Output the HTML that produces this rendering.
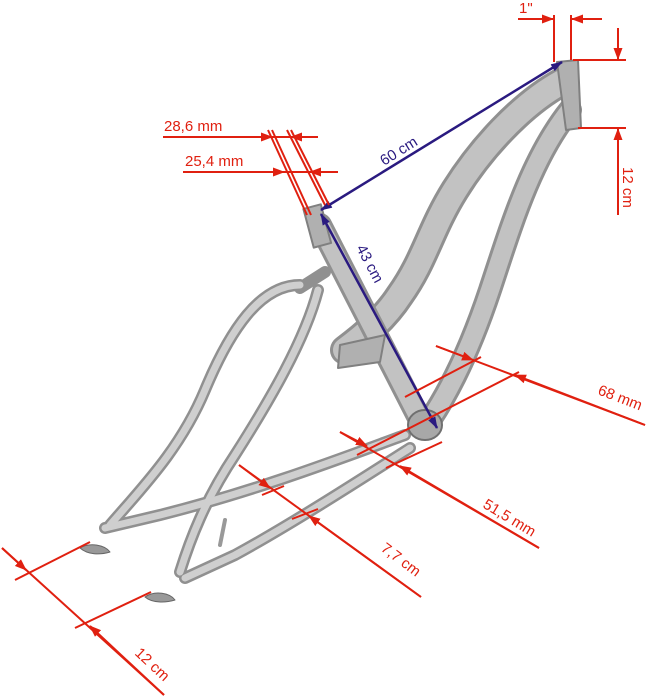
<!DOCTYPE html>
<html><head><meta charset="utf-8"><style>
html,body{margin:0;padding:0;background:#fff;width:650px;height:697px;overflow:hidden}
svg text{font-family:"Liberation Sans",Arial,sans-serif;font-size:15px}
</style></head><body>
<svg width="650" height="697" viewBox="0 0 650 697" xmlns="http://www.w3.org/2000/svg">
<defs>
<marker id="ar" markerWidth="12" markerHeight="9" refX="11" refY="4.5" orient="auto" markerUnits="userSpaceOnUse"><path d="M0,0 L12,4.5 L0,9 z" fill="#e02010"/></marker>
<marker id="ab" markerWidth="12" markerHeight="8" refX="11" refY="4" orient="auto-start-reverse" markerUnits="userSpaceOnUse"><path d="M0,0 L12,4 L0,8 z" fill="#2a1a80"/></marker>
</defs>
<g fill="none" stroke-linecap="round" stroke-linejoin="round">
<g stroke="#909090" stroke-width="30">
<path d="M562,82 C520,105 480,150 455,190 C430,230 425,260 400,295 C385,318 365,335 345,350"/>
</g>
<g stroke="#c2c2c2" stroke-width="24">
<path d="M562,82 C520,105 480,150 455,190 C430,230 425,260 400,295 C385,318 365,335 345,350"/>
</g>
<g stroke="#909090" stroke-width="24">
<path d="M570,110 C530,160 510,230 490,290 C470,350 450,390 430,420"/>
<path d="M320,225 L420,420"/>
</g>
<g stroke="#c2c2c2" stroke-width="18">
<path d="M570,110 C530,160 510,230 490,290 C470,350 450,390 430,420"/>
<path d="M320,225 L420,420"/>
</g>
<path d="M557,62 L578,60 L581,128 L566,130 Z" fill="#b0b0b0" stroke="#808080" stroke-width="2"/>
<path d="M340,345 L385,335 L380,362 L338,368 Z" fill="#b0b0b0" stroke="#808080" stroke-width="2"/>
<g stroke="#909090" stroke-width="12">
<path d="M300,285 C260,285 230,330 205,390 C180,450 140,490 110,525"/>
<path d="M318,290 C305,340 270,400 235,455 C205,500 190,540 180,572"/>
<path d="M405,435 C350,455 260,490 160,515 L105,528"/>
<path d="M410,448 C360,480 290,525 235,555 L185,578"/>
<path d="M300,288 L325,272"/>
</g>
<g stroke="#cfcfcf" stroke-width="7">
<path d="M300,285 C260,285 230,330 205,390 C180,450 140,490 110,525"/>
<path d="M318,290 C305,340 270,400 235,455 C205,500 190,540 180,572"/>
<path d="M405,435 C350,455 260,490 160,515 L105,528"/>
<path d="M410,448 C360,480 290,525 235,555 L185,578"/>
</g>
<ellipse cx="425" cy="425" rx="17" ry="15" fill="#a8a8a8" stroke="#707070" stroke-width="2"/>
<rect x="308" y="206" width="18" height="40" fill="#b0b0b0" stroke="#808080" stroke-width="2" transform="rotate(-15 317 225)"/>
<path d="M80,548 C90,542 105,545 110,552 C100,555 88,555 80,548 Z M145,597 C155,590 170,593 175,600 C165,603 152,603 145,597 Z" fill="#999" stroke="#666"/>
<path d="M220,545 L225,520" stroke="#999" stroke-width="4"/>
</g>
<g stroke="#2a1a80" stroke-width="2.5">
<line x1="321" y1="210" x2="562" y2="62" marker-start="url(#ab)" marker-end="url(#ab)"/>
<line x1="321" y1="214" x2="437" y2="428" marker-start="url(#ab)" marker-end="url(#ab)"/>
</g>
<text x="0" y="0" fill="#2a1a80" font-size="16" transform="translate(384,166) rotate(-32)">60 cm</text>
<text x="0" y="0" fill="#2a1a80" font-size="16" transform="translate(356,248) rotate(62)">43 cm</text>
<g stroke="#e02010" stroke-width="2" fill="none">
<line x1="554" y1="15" x2="554" y2="62"/><line x1="571" y1="15" x2="571" y2="60"/>
<line x1="518" y1="19" x2="553" y2="19" marker-end="url(#ar)"/><line x1="602" y1="19" x2="572" y2="19" marker-end="url(#ar)"/>
<line x1="573" y1="60" x2="626" y2="60"/><line x1="578" y1="128" x2="626" y2="128"/>
<line x1="618" y1="28" x2="618" y2="59" marker-end="url(#ar)"/><line x1="618" y1="215" x2="618" y2="129" marker-end="url(#ar)"/>
<line x1="163" y1="137" x2="318" y2="137"/><line x1="183" y1="172" x2="338" y2="172"/>
<line x1="163" y1="137" x2="272" y2="137" marker-end="url(#ar)"/>
<line x1="317" y1="137" x2="291" y2="137" marker-end="url(#ar)"/>
<line x1="183" y1="172" x2="284" y2="172" marker-end="url(#ar)"/>
<line x1="338" y1="172" x2="310" y2="172" marker-end="url(#ar)"/>
<line x1="268" y1="130" x2="307" y2="215"/><line x1="272" y1="130" x2="311" y2="215"/>
<line x1="287" y1="130" x2="325" y2="205"/><line x1="291" y1="130" x2="329" y2="205"/>
<line x1="436" y1="346" x2="645" y2="425"/>
<line x1="405" y1="397" x2="481" y2="357"/>
<line x1="357" y1="455" x2="519" y2="372"/>
<line x1="436" y1="346" x2="473" y2="360" marker-end="url(#ar)"/>
<line x1="645" y1="425" x2="515" y2="375" marker-end="url(#ar)"/>
<line x1="340" y1="432" x2="539" y2="548"/>
<line x1="386" y1="468" x2="442" y2="442"/>
<line x1="340" y1="432" x2="367" y2="446" marker-end="url(#ar)"/>
<line x1="539" y1="548" x2="400" y2="466" marker-end="url(#ar)"/>
<line x1="239" y1="465" x2="421" y2="597"/>
<line x1="262" y1="495" x2="284" y2="486"/>
<line x1="292" y1="519" x2="318" y2="509"/>
<line x1="239" y1="465" x2="270" y2="488" marker-end="url(#ar)"/>
<line x1="421" y1="597" x2="309" y2="516" marker-end="url(#ar)"/>
<line x1="2" y1="548" x2="164" y2="695"/>
<line x1="15" y1="580" x2="90" y2="542"/>
<line x1="75" y1="628" x2="151" y2="592"/>
<line x1="2" y1="548" x2="26" y2="570" marker-end="url(#ar)"/>
<line x1="164" y1="695" x2="90" y2="626" marker-end="url(#ar)"/>
</g>
<g fill="#e02010">
<text x="519" y="13">1"</text>
<text x="0" y="0" transform="translate(623,167) rotate(90)">12 cm</text>
<text x="164" y="131">28,6 mm</text>
<text x="185" y="166">25,4 mm</text>
<text x="0" y="0" transform="translate(597,394) rotate(21)">68 mm</text>
<text x="0" y="0" transform="translate(482,507) rotate(31)">51,5 mm</text>
<text x="0" y="0" transform="translate(380,550) rotate(37)">7,7 cm</text>
<text x="0" y="0" transform="translate(134,654) rotate(43)">12 cm</text>
</g>
</svg>
</body></html>
